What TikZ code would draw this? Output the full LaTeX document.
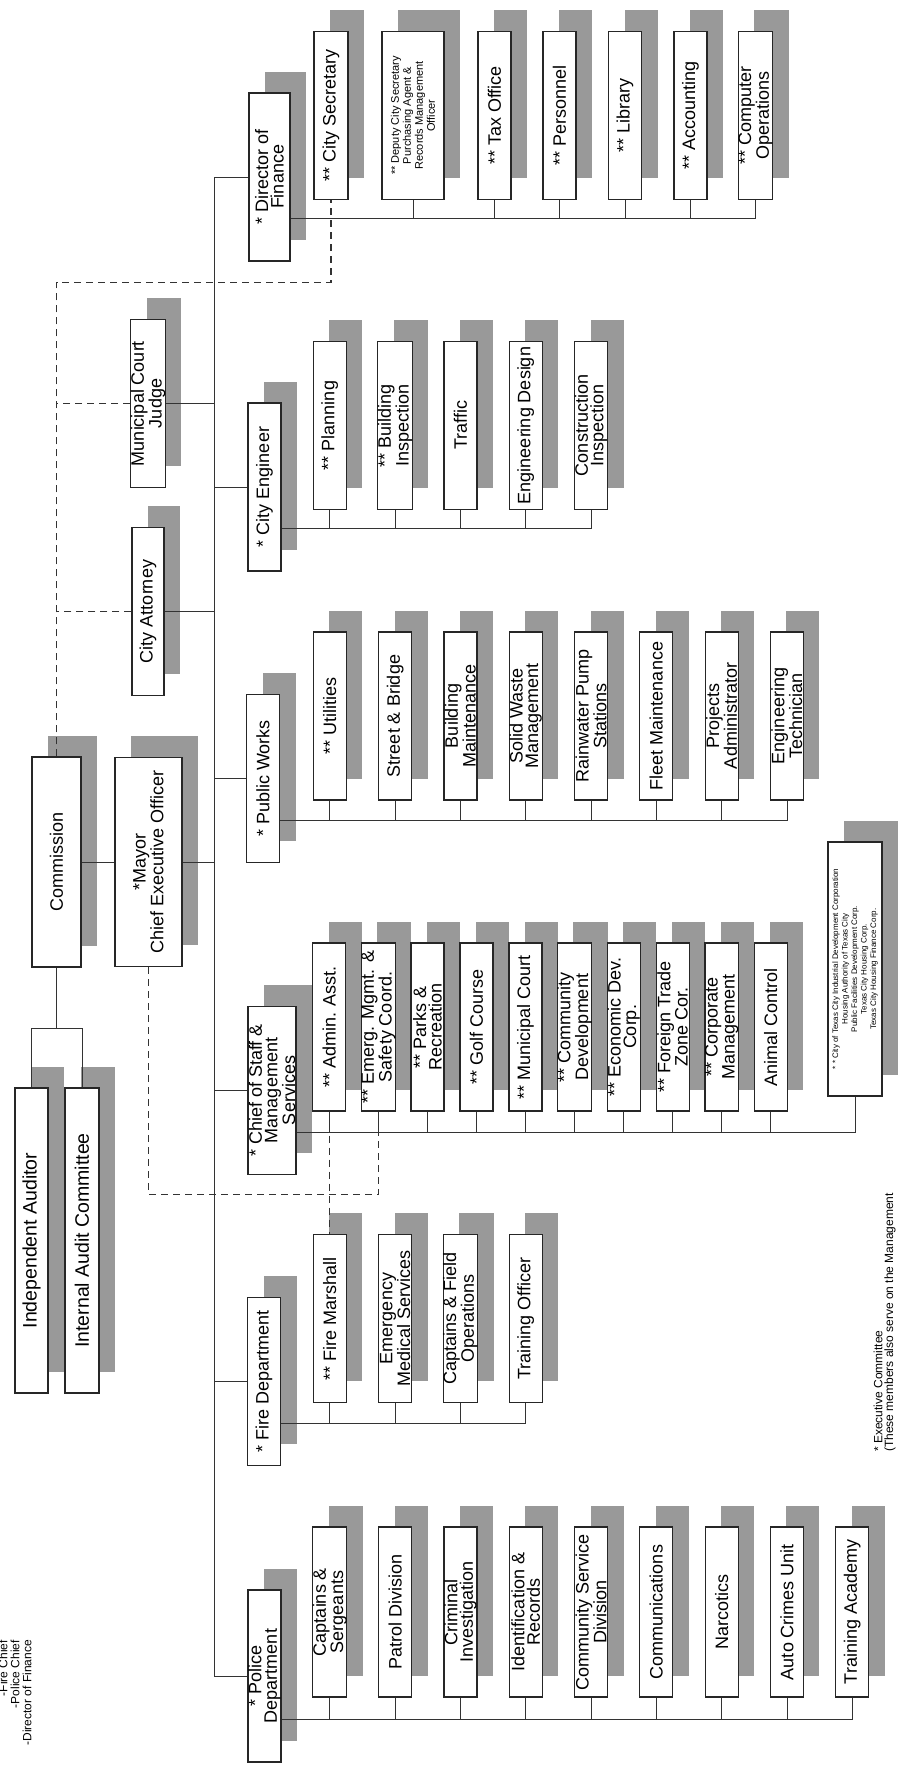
\documentclass[tikz,border=0pt]{standalone}
\usepackage{fontspec}
\setmainfont{Liberation Sans}
\usetikzlibrary{calc}

\newcommand{\boxfont}{\fontsize{18}{15.5}\selectfont}
\newcommand{\bigboxfont}{\fontsize{19.5}{17}\selectfont}
\newcommand{\smallboxfont}{\fontsize{11}{12}\selectfont}
\newcommand{\tinyboxfont}{\fontsize{8}{9.5}\selectfont}
\newcommand{\notefont}{\fontsize{12}{12}\selectfont}

\begin{document}
\begin{tikzpicture}[x=1pt, y=1pt,
    unit/.style={draw=black!85, line width=1.2pt, fill=white,
                 minimum width=168, minimum height=33, inner sep=0pt,
                 align=center, font=\boxfont,
                 preaction={fill=black!40, draw=none,
                            transform canvas={xshift=16pt, yshift=21pt}}},
    link/.style={line width=0.8pt, black!80},
    dashlink/.style={line width=1.1pt, black!80, dash pattern=on 7pt off 5pt},
    note/.style={font=\notefont, inner sep=0pt},
  ]
  \useasboundingbox (0,0) rectangle (898,1775);
  \clip (0,0) rectangle (898,1775);

  % the chart is laid out sideways: read it with the page turned
  \begin{scope}[rotate=90, transform shape]

    % top of the chart
    \node[unit, minimum width=305, font=\bigboxfont] (indaud) at (534.5,-31.5) {Independent Auditor};
    \node[unit, minimum width=305, minimum height=34, font=\bigboxfont] (intaud) at (534.5,-82) {Internal Audit Committee};
    \node[unit, minimum width=210, minimum height=49] (comm) at (913,-56.5) {Commission};
    \node[unit, minimum width=209, minimum height=67] (mayor) at (913,-148.5) {*Mayor\\Chief Executive Officer};
    \node[unit, minimum height=32] (attorney) at (1163.5,-148) {City Attorney};
    \node[unit, minimum height=32] (judge) at (1371.5,-148) {Municipal Court\\Judge};

    % department heads
    \node[unit, minimum width=172] (police) at (99,-264.5) {* Police\\Department};
    \node[unit] (fire) at (393.5,-264) {* Fire Department};
    \node[unit, minimum height=48] (staff) at (684.5,-272) {* Chief of Staff \&\\Management\\Services};
    \node[unit] (works) at (996.5,-263) {* Public Works};
    \node[unit] (engineer) at (1288,-264.5) {* City Engineer};
    \node[unit, minimum height=41] (finance) at (1598,-269.5) {* Director of\\Finance};

    % divisions
    \foreach \t [count=\k from 0] in {{Captains \&\\Sergeants},{Patrol Division},{Criminal\\Investigation},
        {Identification \&\\Records},{Community Service\\Division},{Communications},{Narcotics},
        {Auto Crimes Unit},{Training Academy}}
      \node[unit, minimum width=170] (pd\k) at (163,{-329.8-65.3*\k}) {\t};

    \foreach \t [count=\k from 0] in {{** Fire Marshall},{Emergency\\Medical Services},
        {Captains \& Field\\Operations},{Training Officer}}
      \node[unit] (fd\k) at (456.5,{-329.8-65.3*\k}) {\t};

    \foreach \t [count=\k from 0] in {{** Admin. Asst.},{** Emerg. Mgmt. \&\\Safety Coord.},{** Parks \&\\Recreation},
        {** Golf Course},{** Municipal Court},{** Community\\Development},{** Economic Dev.\\Corp.},
        {** Foreign Trade\\Zone Cor.},{** Corporate\\Management},{Animal Control}}
      \node[unit] (sd\k) at (748,{-329.3-49.05*\k}) {\t};
    \node[unit, minimum width=254, minimum height=54, font=\tinyboxfont] (legend) at (806,-855)
      {* * City of Texas City Industrial Development Corporation\\Housing Authority of Texas City\\
       Public Facilities Development Corp.\\Texas City Housing Corp.\\Texas City Housing Finance Corp.};

    \foreach \t [count=\k from 0] in {{** Utilities},{Street \& Bridge},{Building\\Maintenance},
        {Solid Waste\\Management},{Rainwater Pump\\Stations},{Fleet Maintenance},
        {Projects\\Administrator},{Engineering\\Technician}}
      \node[unit] (wd\k) at (1059,{-329.8-65.3*\k}) {\t};

    \foreach \t [count=\k from 0] in {{** Planning},{** Building\\Inspection},{Traffic},
        {Engineering Design},{Construction\\Inspection}}
      \node[unit] (ed\k) at (1349.5,{-329.8-65.3*\k}) {\t};

    \node[unit, minimum height=34] (citysec) at (1659.5,-331) {** City Secretary};
    \node[unit, minimum height=62, font=\smallboxfont] (deputy) at (1659.5,-413)
      {** Deputy City Secretary\\Purchasing Agent \&\\Records Management\\Officer};
    \node[unit] (tax) at (1659.5,-494.5) {** Tax Office};
    \node[unit] (personnel) at (1659.5,-559.5) {** Personnel};
    \node[unit] (library) at (1659.5,-625) {** Library};
    \node[unit] (accounting) at (1659.5,-690.5) {** Accounting};
    \node[unit] (computer) at (1659.5,-755.5) {** Computer\\Operations};

    % solid lines
    \coordinate (hub) at (913,-214);
    \draw[link] (comm) -- (mayor);
    \draw[link] (mayor.south) -- (hub);
    \draw[link] (police.north |- hub) -- (finance.north |- hub);
    \foreach \h in {police,fire,staff,works,engineer,finance}
      \draw[link] (\h.north) -- (\h.north |- hub);
    \foreach \h in {attorney,judge}
      \draw[link] (\h.south) -- (\h.south |- hub);

    \coordinate (audit) at ($(comm.west)+(-61,0)$);
    \draw[link] (comm.west) -- (audit);
    \draw[link] (indaud.east) -| (audit) |- (intaud.east);

    \foreach \h/\p/\n in {police/pd/8, fire/fd/3, staff/sd/9, works/wd/7, engineer/ed/4} {
      \coordinate (\p-bus) at ($(\h.south west)+(43,0)$);
      \foreach \k in {0,...,\n}
        \draw[link] (\p-bus) |- (\p\k.west);
    }
    \draw[link] (sd-bus) |- (legend.west);
    \coordinate (fin-bus) at ($(finance.south west)+(43,0)$);
    \foreach \n in {deputy,tax,personnel,library,accounting,computer}
      \draw[link] (fin-bus) |- (\n.west);

    % dashed lines
    \draw[dashlink] (comm.east) -| ($(citysec.west)+(-82,0)$) -- (citysec.west);
    \draw[dashlink] (judge.north) -- (judge.north |- comm.east);
    \draw[dashlink] (attorney.north) -- (attorney.north |- comm.east);
    \draw[dashlink] (mayor.west) -| ($(sd1.west)+(-83,0)$) -- (sd1.west);
    \draw[dashlink] (sd0.west) -- (sd0.west -| fd0.east);

    % footnotes
    \node[note, anchor=west] (exec) at (323,-878) {* Executive Committee};
    \node[note, anchor=west] (members) at (323,-890) {(These members also serve on the Management};
    \node[note, anchor=east] (firechief) at (135,-3) {-Fire Chief};
    \node[note, anchor=east] (policechief) at (135,-15) {-Police Chief};
    \node[note, anchor=east] (dirfin) at (135,-27) {-Director of Finance};
  \end{scope}
\end{tikzpicture}
\end{document}
